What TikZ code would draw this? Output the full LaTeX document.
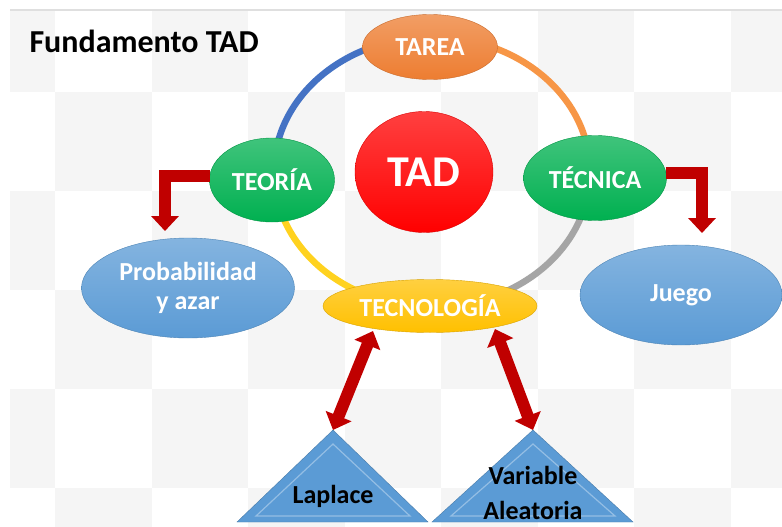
\documentclass[tikz,border=0pt]{standalone}
\usepackage{fontspec}
\setmainfont{Carlito}
\usetikzlibrary{shapes.geometric,arrows.meta}
\definecolor{cellC}{HTML}{F5F5F5}
\definecolor{tareaC}{HTML}{ED7D31}
\definecolor{tadC}{HTML}{FF0000}
\definecolor{greenC}{HTML}{00B050}
\definecolor{tecnoC}{HTML}{FFC000}
\definecolor{blueC}{HTML}{5B9BD5}
\definecolor{arrowC}{HTML}{C00000}
\definecolor{ringBlue}{HTML}{4472C4}
\definecolor{ringOrange}{HTML}{F79646}
\definecolor{ringYellow}{HTML}{FFD21F}
\definecolor{ringGray}{HTML}{A5A5A5}
\begin{document}
\begin{tikzpicture}[x=1pt,y=-1pt,
    bubble/.style={ellipse, inner sep=0pt, align=center, text=white,
      font=\bfseries\fontsize{26}{29}\selectfont,
      top color=#1!75!white, middle color=#1, bottom color=#1, draw=#1!85!black},
    ring/.style={line width=6.5pt},
    redarrow/.style={draw=arrowC, line width=12pt, line join=miter,
      >={Triangle[width=27pt,length=15pt]}},
    triangle/.style={fill=blueC, draw=blueC!80!black, line join=miter},
    label/.style={font=\bfseries\fontsize{26}{29}\selectfont, text=black}]
  \useasboundingbox (0,0) rectangle (782,527);
  % Background
  \fill[white] (0,0) rectangle (782,527);
  \foreach \c in {0,...,8}
    \foreach \r in {0,...,5} {
      \pgfmathtruncatemacro{\odd}{mod(\c+\r,2)}
      \ifnum\odd=0
        \pgfmathsetmacro{\xa}{max(10,55+96.5*(\c-1))}
        \pgfmathsetmacro{\ya}{max(10,92+99*(\r-1))}
        \fill[cellC] (\xa,\ya) rectangle (55+96.5*\c,92+99*\r);
      \fi
    }
  \draw[gray!25, line width=1.5pt] (10,10) -- (782,10);
  % Title
  \node[anchor=base west, font=\bfseries\fontsize{32}{36}\selectfont] (title) at (26,53) {Fundamento TAD};
  % Ring
  \draw[ring, ringBlue] (432,172) ++(180:158 and 135) arc[start angle=180, end angle=270, x radius=158, y radius=135];
  \draw[ring, ringOrange] (432,172) ++(270:158 and 135) arc[start angle=270, end angle=360, x radius=158, y radius=135];
  \draw[ring, ringGray] (432,172) ++(0:158 and 135) arc[start angle=0, end angle=90, x radius=158, y radius=135];
  \draw[ring, ringYellow] (432,172) ++(90:158 and 135) arc[start angle=90, end angle=180, x radius=158, y radius=135];
  % Nodes
  \node[bubble=tareaC, minimum width=135pt, minimum height=65pt] (tarea) at (430,47) {TAREA};
  \node[bubble=tadC, minimum width=138pt, minimum height=121pt, font=\bfseries\fontsize{44}{50}\selectfont] (tad) at (424,172) {TAD};
  \node[bubble=greenC, minimum width=125pt, minimum height=84pt] (teoria) at (272,180) {TEORÍA};
  \node[bubble=greenC, minimum width=143pt, minimum height=85pt] (tecnica) at (595,178) {TÉCNICA};
  \node[bubble=tecnoC, minimum width=214pt, minimum height=53pt] (tecnologia) at (430,306) {TECNOLOGÍA};
  \node[bubble=blueC, minimum width=213pt, minimum height=100pt] (prob) at (188,288) {Probabilidad\\y azar};
  \node[bubble=blueC, minimum width=202pt, minimum height=100pt] (juego) at (681,295) {Juego};
  % Triangles
  \coordinate (lapA) at (333,430);
  \coordinate (varA) at (533,430);
  \draw[triangle] (lapA) -- (428,522) -- (237,522) -- cycle;
  \draw[triangle] (varA) -- (633,522) -- (432,522) -- cycle;
  \draw[white!35!blueC, line width=1.2pt] (333,444) -- (410,516) -- (256,516) -- cycle;
  \draw[white!35!blueC, line width=1.2pt] (533,444) -- (615,516) -- (451,516) -- cycle;
  \node[label] (laplace) at (333,496) {Laplace};
  \node[label] (variable) at (533,475) {Variable};
  \node[label] (aleatoria) at (533,510) {Aleatoria};
  % Arrows
  \coordinate (teoTip) at (165,231);
  \coordinate (tecTip) at (702,233);
  \coordinate (tecL) at (373,331);
  \coordinate (tecR) at (495,329);
  \draw[redarrow, ->] (teoria.176) -| (teoTip);
  \draw[redarrow, ->] (tecnica.4) -| (tecTip);
  \draw[redarrow, <->] (tecL) -- (lapA);
  \draw[redarrow, <->] (tecR) -- (varA);
\end{tikzpicture}
\end{document}
